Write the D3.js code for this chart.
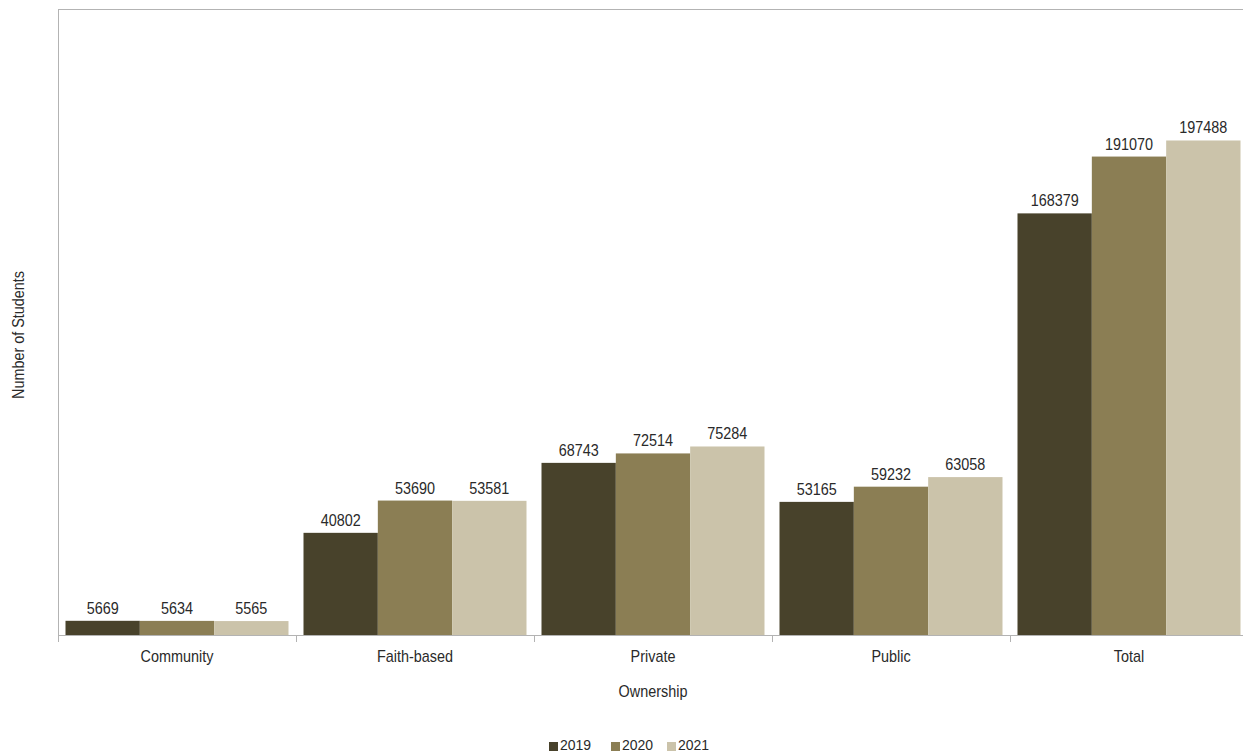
<!DOCTYPE html>
<html><head><meta charset="utf-8">
<script src="https://cdn.jsdelivr.net/npm/d3@7"></script>
<style>body{margin:0;background:#fff}svg{display:block}text{font-family:"Liberation Sans",Arial,sans-serif}</style>
</head><body><svg id="c" width="1243" height="753"></svg>
<script>
const categories = ["Community","Faith-based","Private","Public","Total"];
const years = ["2019","2020","2021"];
const v2019 = [5669,40802,68743,53165,168379];
const v2020 = [5634,53690,72514,59232,191070];
const v2021 = [5565,53581,75284,63058,197488];
const colors = ["#48422b","#8b7e54","#cbc3aa"];
const series = [v2019,v2020,v2021];
const FS = 16, SX = 0.9, TC = "#2a2a2a";

const svg = d3.select("#c");
const x0 = d3.scaleBand().domain(categories).range([58,1248]).paddingInner(0).paddingOuter(0);
const x1 = d3.scaleBand().domain(years).range([7.5, x0.bandwidth()-7.5]);
const y = d3.scaleLinear().domain([0,250000]).range([635,9]);

function txt(parent, x, yy, s, rot) {
  return parent.append("text")
    .attr("transform", `translate(${x},${yy})` + (rot ? ` rotate(${rot})` : "") + ` scale(${SX},1)`)
    .attr("text-anchor","middle").attr("font-size",FS).attr("fill",TC).text(s);
}

svg.append("line").attr("x1",58).attr("x2",1248).attr("y1",9.5).attr("y2",9.5).attr("stroke","#b3b3b3");
svg.append("line").attr("x1",58.5).attr("x2",58.5).attr("y1",9).attr("y2",635).attr("stroke","#b3b3b3");

const g = svg.append("g");
categories.forEach((c,i)=>{
  years.forEach((yr,j)=>{
    const v = series[j][i];
    g.append("rect").attr("x",x0(c)+x1(yr)).attr("width",x1.bandwidth())
      .attr("y",y(v)).attr("height",y(0)-y(v)).attr("fill",colors[j]);
    txt(g, x0(c)+x1(yr)+x1.bandwidth()/2, y(v)-7, v);
  });
});

const xAxis = d3.axisBottom(x0).tickSize(0).tickPadding(0);
const ax = svg.append("g").attr("transform","translate(0,635)").call(xAxis);
ax.select(".domain").attr("stroke","#b3b3b3").attr("d","M58,0.5H1248");
ax.selectAll("text").attr("font-size",FS).attr("fill",TC).attr("font-family",null)
  .attr("dy",null).attr("y",27).attr("transform",`scale(${SX},1)`);
const bounds = categories.map(c=>x0(c)).concat([x0.range()[1]]);
svg.append("g").selectAll("line").data(bounds).join("line")
  .attr("x1",d=>Math.round(d)+0.5).attr("x2",d=>Math.round(d)+0.5).attr("y1",635).attr("y2",642).attr("stroke","#b3b3b3");

txt(svg, 653, 697, "Ownership");
txt(svg, 24, 335, "Number of Students", -90);

const leg = svg.append("g");
const lx = [549,611,667];
years.forEach((yr,j)=>{
  leg.append("rect").attr("x",lx[j]).attr("y",742).attr("width",9).attr("height",9).attr("fill",colors[j]);
  leg.append("text").attr("x",lx[j]+11).attr("y",750).attr("font-size",14).attr("fill",TC).text(yr);
});
</script></body></html>
